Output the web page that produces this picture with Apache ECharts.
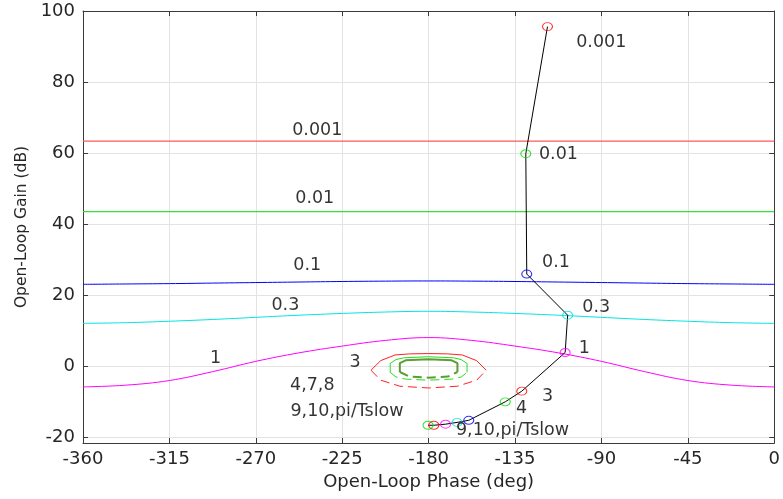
<!DOCTYPE html>
<html>
<head>
<meta charset="utf-8">
<script src="https://cdn.jsdelivr.net/npm/echarts@6/dist/echarts.min.js"></script>
<style>
  html, body { margin: 0; padding: 0; background: #ffffff; }
  #chart { width: 783px; height: 499px; }
</style>
</head>
<body>
<div id="chart"></div>
<script>
// Nichols plot: QFT bounds at design frequencies and the nominal loop L(jw)

// phase samples for the open (full-width) bounds, deg
const boundPhase = [-360, -337.5, -315, -292.5, -270, -247.5, -225, -202.5, -180,
                    -157.5, -135, -112.5, -90, -67.5, -45, -22.5, 0];
// open bounds, dB
const bound0001 = [63.35, 63.35, 63.35, 63.35, 63.35, 63.35, 63.35, 63.35, 63.35,
                   63.35, 63.35, 63.35, 63.35, 63.35, 63.35, 63.35, 63.35];
const bound001 = [43.5, 43.5, 43.5, 43.5, 43.5, 43.5, 43.5, 43.5, 43.5,
                  43.5, 43.5, 43.5, 43.5, 43.5, 43.5, 43.5, 43.5];
const bound01 = [23.0, 23.1, 23.2, 23.35, 23.5, 23.65, 23.8, 23.9, 23.95,
                 23.9, 23.8, 23.65, 23.5, 23.35, 23.2, 23.1, 23.0];
const bound03 = [12.0, 12.2, 12.6, 13.1, 13.7, 14.3, 14.8, 15.2, 15.4,
                 15.2, 14.8, 14.3, 13.7, 13.1, 12.6, 12.2, 12.0];
const bound1 = [-5.9, -5.4, -4.1, -1.6, 1.3, 3.7, 5.6, 7.2, 8.0,
                7.2, 5.6, 3.7, 1.3, -1.6, -4.1, -5.4, -5.9];

// closed bounds around the critical point: upper (solid) and lower (dashed) halves
const bound3UpperPhase = [-210, -205, -197.5, -190, -180, -170, -162.5, -155, -150];
const bound3UpperGain  = [-1.2, 1.5, 3.1, 3.4, 3.5, 3.4, 3.1, 1.5, -1.2];
const bound3LowerPhase = [-210, -205, -195, -180, -165, -155, -150];
const bound3LowerGain  = [-1.2, -4.0, -5.7, -6.2, -5.7, -4.0, -1.2];

const bound4UpperPhase = [-200, -200, -197, -193, -180, -167, -163, -160, -160];
const bound4UpperGain  = [-1.8, 0.7, 1.8, 2.3, 2.6, 2.3, 1.8, 0.7, -1.8];
const bound4LowerPhase = [-200, -197, -192, -180, -168, -163, -160];
const bound4LowerGain  = [-1.8, -3.1, -3.7, -4.0, -3.7, -3.1, -1.8];

const bound78UpperPhase = [-195, -195, -192, -180, -168, -165, -165];
const bound78UpperGain  = [-1.7, 0.8, 1.6, 1.9, 1.6, 0.8, -1.7];
const bound78LowerPhase = [-195, -190, -180, -170, -165];
const bound78LowerGain  = [-1.7, -3.0, -3.3, -3.0, -1.7];

// nominal loop at the design frequencies
const freqNames = ['0.001', '0.01', '0.1', '0.3', '1', '3', '4', '7', '8', '9', '10', 'pi/Tslow'];
const loopPhase = [-118.1, -129.4, -128.9, -107.6, -108.9, -131.5, -140.1, -159.1, -165.2, -171.2, -177.3, -180.3];
const loopGain  = [95.6, 59.8, 25.9, 14.3, 3.8, -7.1, -10.1, -15.3, -15.9, -16.4, -16.7, -16.7];
const markerColors = ['#ff0000', '#00dd00', '#0000ff', '#00e0e0', '#ff00ff',
                      '#ff0000', '#00dd00', '#0000ff', '#00e0e0', '#ff00ff', '#ff0000', '#00dd00'];

// text annotations: bound labels and loop frequency labels
const boundLabelText  = ['0.001', '0.01', '0.1', '0.3', '1', '3', '4,7,8', '9,10,pi/Tslow'];
const boundLabelPhase = [-238.0, -239.3, -243.2, -254.6, -291.0, -218.3, -240.6, -222.5];
const boundLabelGain  = [66.45, 47.1, 28.2, 17.1, 2.2, 1.1, -5.4, -12.95];
const loopLabelText  = ['0.001', '0.01', '0.1', '0.3', '1', '3', '4', '9,10,pi/Tslow'];
const loopLabelPhase = [-90.1, -112.4, -113.7, -92.7, -98.9, -118.1, -131.6, -136.3];
const loopLabelGain  = [91.0, 59.7, 29.05, 16.6, 5.0, -8.5, -11.9, -18.1];

// axis ticks
const xMin = -360, xMax = 0, xStep = 45;
const yMin = -21.7, yMax = 100;
const yTicks = [-20, 0, 20, 40, 60, 80, 100];

const FONT = 'DejaVu Sans';
const zip = (a, b) => a.map((v, i) => [v, b[i]]);

function boundLine(phase, gain, color, dashed, width, smooth) {
  return {
    type: 'line', data: zip(phase, gain), symbol: 'none', silent: true,
    smooth: smooth || false,
    lineStyle: { color: color, width: width || 1, type: dashed ? [9, 5] : 'solid' },
    z: 3
  };
}

function textSeries(texts, phase, gain) {
  return {
    type: 'scatter', symbolSize: 1, silent: true, z: 6,
    itemStyle: { color: 'transparent' },
    data: texts.map((t, i) => ({ value: [phase[i], gain[i]], name: t })),
    label: {
      show: true, position: 'inside', formatter: p => p.name,
      color: '#000000', fontFamily: FONT, fontSize: 17.5
    }
  };
}

const axisLineStyle = { color: '#3a3a3a', width: 1 };
const tickLabel = { color: '#262626', fontFamily: FONT, fontSize: 18 };

const option = {
  animation: false,
  backgroundColor: '#ffffff',
  grid: { left: 83, top: 11, right: 6, bottom: 56, containLabel: false },
  xAxis: [
    {
      type: 'value', min: xMin, max: xMax, interval: xStep, position: 'bottom',
      name: 'Open-Loop Phase (deg)', nameLocation: 'middle', nameGap: 30,
      nameTextStyle: { color: '#262626', fontFamily: FONT, fontSize: 18 },
      axisLine: { show: true, onZero: false, lineStyle: axisLineStyle },
      axisTick: { show: true, inside: true, length: 5, lineStyle: axisLineStyle },
      axisLabel: Object.assign({ margin: 7 }, tickLabel),
      splitLine: { show: true, lineStyle: { color: '#e3e3e3', width: 1 } }
    },
    {
      type: 'value', min: xMin, max: xMax, interval: xStep, position: 'top',
      axisLine: { show: true, onZero: false, lineStyle: axisLineStyle },
      axisTick: { show: true, inside: true, length: 5, lineStyle: axisLineStyle },
      axisLabel: { show: false },
      splitLine: { show: false }
    }
  ],
  yAxis: [
    {
      type: 'value', min: yMin, max: yMax, position: 'left',
      name: 'Open-Loop Gain (dB)', nameLocation: 'middle', nameGap: 52,
      nameTextStyle: { color: '#262626', fontFamily: FONT, fontSize: 15.5 },
      axisLine: { show: true, onZero: false, lineStyle: axisLineStyle },
      axisTick: { show: true, inside: true, length: 5, customValues: yTicks, lineStyle: axisLineStyle },
      axisLabel: Object.assign({ margin: 8, customValues: yTicks }, tickLabel),
      splitLine: { show: true, lineStyle: { color: '#e3e3e3', width: 1 } }
    },
    {
      type: 'value', min: yMin, max: yMax, position: 'right',
      axisLine: { show: true, onZero: false, lineStyle: axisLineStyle },
      axisTick: { show: true, inside: true, length: 5, customValues: yTicks, lineStyle: axisLineStyle },
      axisLabel: { show: false, customValues: yTicks },
      splitLine: { show: false }
    }
  ],
  series: [
    boundLine(boundPhase, bound0001, '#ff5a5a', false, 1.3),
    boundLine(boundPhase, bound001, '#33e033', false, 1.3),
    boundLine(boundPhase, bound01, '#0000ff', false, 1, 0.4),
    boundLine(boundPhase, bound03, '#00e5e5', false, 1, 0.4),
    boundLine(boundPhase, bound1, '#ff00ff', false, 1, 0.4),
    boundLine(bound3UpperPhase, bound3UpperGain, '#ff2020', false, 1),
    boundLine(bound3LowerPhase, bound3LowerGain, '#ff2020', true, 1),
    boundLine(bound4UpperPhase, bound4UpperGain, '#22dd22', false, 1),
    boundLine(bound4LowerPhase, bound4LowerGain, '#22dd22', true, 1),
    boundLine(bound78UpperPhase, bound78UpperGain, '#5a9e32', false, 2),
    boundLine(bound78LowerPhase, bound78LowerGain, '#5a9e32', true, 2),
    {
      type: 'line', data: zip(loopPhase, loopGain), symbol: 'none', silent: true,
      lineStyle: { color: '#000000', width: 1 }, z: 4
    },
    {
      type: 'scatter', silent: true, z: 5,
      symbol: 'circle', symbolSize: [10, 8],
      data: loopPhase.map((p, i) => ({
        value: [p, loopGain[i]], name: freqNames[i],
        itemStyle: { color: 'rgba(0,0,0,0)', borderColor: markerColors[i], borderWidth: 1 }
      }))
    },
    textSeries(boundLabelText, boundLabelPhase, boundLabelGain),
    textSeries(loopLabelText, loopLabelPhase, loopLabelGain)
  ]
};

const chart = echarts.init(document.getElementById('chart'), null, { renderer: 'canvas' });
chart.setOption(option);
</script>
</body>
</html>
